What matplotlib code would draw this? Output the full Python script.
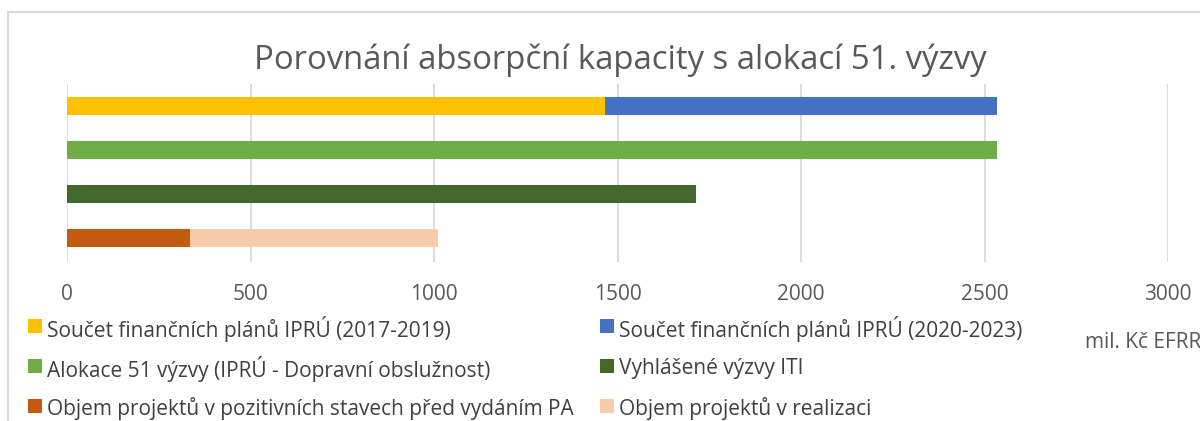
import matplotlib
matplotlib.use("Agg")
import matplotlib.pyplot as plt
from matplotlib.patches import Rectangle

plt.rcParams['font.family'] = ['Open Sans', 'DejaVu Sans']

title = "Porovnání absorpční kapacity s alokací 51. výzvy"
unit_label = "mil. Kč EFRR"
rows = [0, 1, 2, 3]

series_names = [
    "Součet finančních plánů IPRÚ (2017-2019)",
    "Součet finančních plánů IPRÚ (2020-2023)",
    "Alokace 51 výzvy (IPRÚ - Dopravní obslužnost)",
    "Vyhlášené výzvy ITI",
    "Objem projektů v pozitivních stavech před vydáním PA",
    "Objem projektů v realizaci",
]
series_colors = ["#FFC000", "#4472C4", "#70AD47", "#43682B", "#C55A11", "#F8CBAD"]
plan_2017_2019 = [1465]
plan_2020_2023 = [1068]
alokace_51 = [2533]
vyhlasene_iti = [1713]
pozitivni_stavy = [336]
realizace = [675]

xticks = [0, 500, 1000, 1500, 2000, 2500, 3000]

W, H = 1200, 421
fig = plt.figure(figsize=(12, 4.21), dpi=100)

# chart border
fig.patches.append(Rectangle((8 / W, -0.1), 1.2, 1 - 12 / H + 0.1, transform=fig.transFigure,
                             fill=False, edgecolor="#d9d9d9", linewidth=1.5))

ax = fig.add_axes([67 / W, 1 - 262 / H, (1168 - 67) / W, (262 - 84) / H])
h = 0.41
ax.barh(rows[0], plan_2017_2019[0], height=h, color=series_colors[0], zorder=3)
ax.barh(rows[0], plan_2020_2023[0], left=plan_2017_2019[0], height=h, color=series_colors[1], zorder=3)
ax.barh(rows[1], alokace_51[0], height=h, color=series_colors[2], zorder=3)
ax.barh(rows[2], vyhlasene_iti[0], height=h, color=series_colors[3], zorder=3)
ax.barh(rows[3], pozitivni_stavy[0], height=h, color=series_colors[4], zorder=3)
ax.barh(rows[3], realizace[0], left=pozitivni_stavy[0], height=h, color=series_colors[5], zorder=3)

ax.set_xlim(0, 3000)
ax.set_ylim(3.55, -0.5)
ax.set_xticks(xticks)
ax.set_xticklabels([str(t) for t in xticks])
ax.set_yticks([])
for s in ax.spines.values():
    s.set_visible(False)
ax.grid(axis="x", color="#d9d9d9", linewidth=1.3, zorder=0)
ax.tick_params(axis="x", length=0, pad=16, labelsize=15, labelcolor="#595959")

fig.text(620 / W, 1 - 60 / H, title, ha="center", va="center", fontsize=23.7, color="#595959")
fig.text(1085 / W, 1 - 342 / H, unit_label, ha="left", va="center", fontsize=15, color="#595959")

# legend laid out in a 2-column grid (row-major order of series)
col_x = [28, 600]
row_y = [326, 366, 406]
msize = 14
for i, (name, color) in enumerate(zip(series_names, series_colors)):
    r, c = divmod(i, 2)
    x0, yc = col_x[c], row_y[r]
    fig.patches.append(Rectangle((x0 / W, 1 - (yc + msize / 2) / H), msize / W, msize / H,
                                 transform=fig.transFigure, facecolor=color, edgecolor="none"))
    fig.text((x0 + msize + 5) / W, 1 - yc / H, name, ha="left", va="center_baseline",
             fontsize=15, color="#404040")

fig.savefig("out.png", dpi=100)
